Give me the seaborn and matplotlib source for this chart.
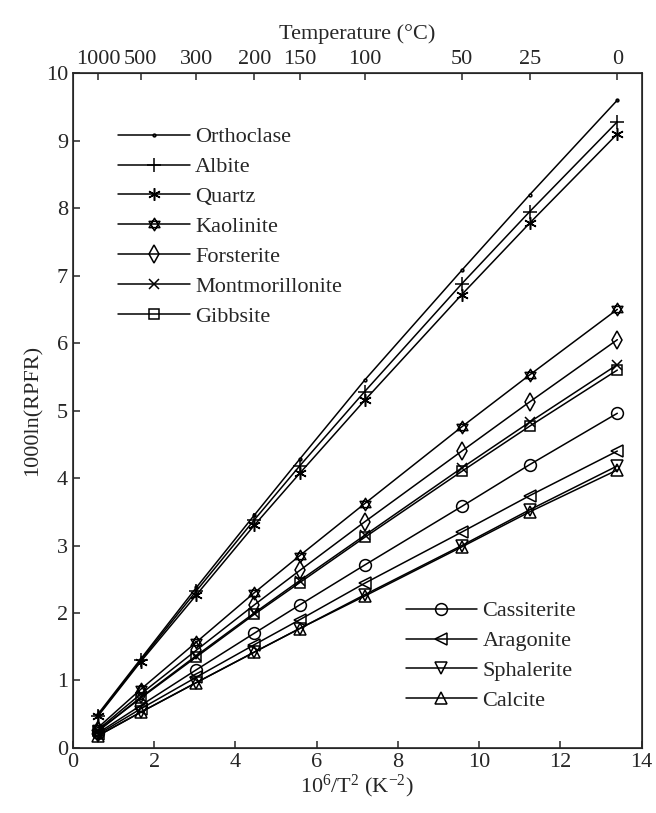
import numpy as np
import pandas as pd
import matplotlib
matplotlib.use("Agg")
import matplotlib.pyplot as plt
from matplotlib.path import Path
import seaborn as sns

# temperatures (°C) and x = 10^6/T^2 (K^-2)
temps_c = [1000, 500, 300, 200, 150, 100, 50, 25, 0]
x_vals = [0.617, 1.673, 3.044, 4.467, 5.585, 7.182, 9.576, 11.249, 13.403]

orthoclase = [0.50, 1.32, 2.38, 3.45, 4.28, 5.45, 7.08, 8.20, 9.60]
albite = [0.48, 1.30, 2.33, 3.38, 4.18, 5.28, 6.88, 7.95, 9.28]
quartz = [0.47, 1.28, 2.27, 3.30, 4.07, 5.15, 6.72, 7.78, 9.10]
kaolinite = [0.30, 0.87, 1.57, 2.30, 2.85, 3.62, 4.76, 5.53, 6.50]
forsterite = [0.27, 0.80, 1.45, 2.12, 2.63, 3.35, 4.40, 5.13, 6.05]
montmorillonite = [0.25, 0.75, 1.37, 2.00, 2.48, 3.15, 4.15, 4.83, 5.68]
gibbsite = [0.25, 0.74, 1.35, 1.98, 2.45, 3.12, 4.10, 4.77, 5.60]
cassiterite = [0.22, 0.63, 1.16, 1.70, 2.12, 2.71, 3.58, 4.20, 4.96]
aragonite = [0.20, 0.58, 1.05, 1.53, 1.90, 2.44, 3.20, 3.74, 4.40]
sphalerite = [0.18, 0.53, 0.97, 1.42, 1.77, 2.27, 3.00, 3.53, 4.18]
calcite = [0.18, 0.53, 0.97, 1.42, 1.77, 2.25, 2.98, 3.50, 4.12]

minerals = ["Orthoclase", "Albite", "Quartz", "Kaolinite", "Forsterite",
            "Montmorillonite", "Gibbsite", "Cassiterite", "Aragonite",
            "Sphalerite", "Calcite"]
series = [orthoclase, albite, quartz, kaolinite, forsterite, montmorillonite,
          gibbsite, cassiterite, aragonite, sphalerite, calcite]

# hexagram (two overlapping triangles) for kaolinite
ang_up = np.deg2rad([90, 210, 330, 90])
ang_dn = np.deg2rad([270, 30, 150, 270])
hex_verts = list(zip(np.cos(ang_up), np.sin(ang_up))) + list(zip(np.cos(ang_dn), np.sin(ang_dn)))
hex_codes = [Path.MOVETO, Path.LINETO, Path.LINETO, Path.CLOSEPOLY] * 2
hexagram = Path(hex_verts, hex_codes)

markers = {"Orthoclase": ".", "Albite": "+", "Quartz": (6, 2, 0),
           "Kaolinite": hexagram, "Forsterite": "d", "Montmorillonite": "x",
           "Gibbsite": "s", "Cassiterite": "o", "Aragonite": "<",
           "Sphalerite": "v", "Calcite": "^"}
sizes = {"Orthoclase": 4, "Albite": 10, "Quartz": 9, "Kaolinite": 9,
         "Forsterite": 9, "Montmorillonite": 7, "Gibbsite": 7,
         "Cassiterite": 8.5, "Aragonite": 8.5, "Sphalerite": 8.5, "Calcite": 8.5}

rows = []
for name, ys in zip(minerals, series):
    for xv, yv in zip(x_vals, ys):
        rows.append((name, xv, yv))
df = pd.DataFrame(rows, columns=["mineral", "x", "y"])

sns.set_style("ticks")
plt.rcParams["font.family"] = ["Liberation Serif", "DejaVu Serif"]
plt.rcParams["mathtext.fontset"] = "custom"
plt.rcParams["mathtext.rm"] = "Liberation Serif"
plt.rcParams["mathtext.it"] = "Liberation Serif:italic"

fig = plt.figure(figsize=(6.56, 8.13), dpi=100)
ax = fig.add_axes([0.111, 0.08, 0.867, 0.83])

for name in minerals:
    sub = df[df["mineral"] == name]
    sns.lineplot(data=sub, x="x", y="y", ax=ax, color="k", lw=1.1,
                 marker=markers[name], markersize=sizes[name],
                 markerfacecolor="none", markeredgecolor="k",
                 markeredgewidth=1.1, label=name, legend=False)

ax.set_xlim(0, 14)
ax.set_ylim(0, 10)
ax.set_xticks(range(0, 15, 2))
ax.set_yticks(range(0, 11, 1))
ax.tick_params(direction="in", labelsize=16, length=5, width=1.1)
for s in ax.spines.values():
    s.set_linewidth(1.2)
ax.set_xlabel("10$^{6}$/T$^{2}$ (K$^{-2}$)", fontsize=16, labelpad=1)
ax.set_ylabel("1000ln(RPFR)", fontsize=16, labelpad=2)

top = ax.twiny()
top.set_xlim(ax.get_xlim())
top.set_xticks(x_vals)
top.set_xticklabels([str(t) for t in temps_c])
top.tick_params(direction="in", labelsize=16, length=5, width=1.1, pad=3)
top.set_xlabel("Temperature (°C)", fontsize=16, labelpad=8)

handles, labels = ax.get_legend_handles_labels()
leg1 = ax.legend(handles[:7], labels[:7], loc="upper left",
                 bbox_to_anchor=(0.045, 0.95), frameon=False, fontsize=16,
                 handlelength=3.2, labelspacing=0.42, handletextpad=0.25)
ax.add_artist(leg1)
ax.legend(handles[7:], labels[7:], loc="lower left",
          bbox_to_anchor=(0.55, 0.025), frameon=False, fontsize=16,
          handlelength=3.2, labelspacing=0.42, handletextpad=0.25)

fig.savefig("out.png", dpi=100)
